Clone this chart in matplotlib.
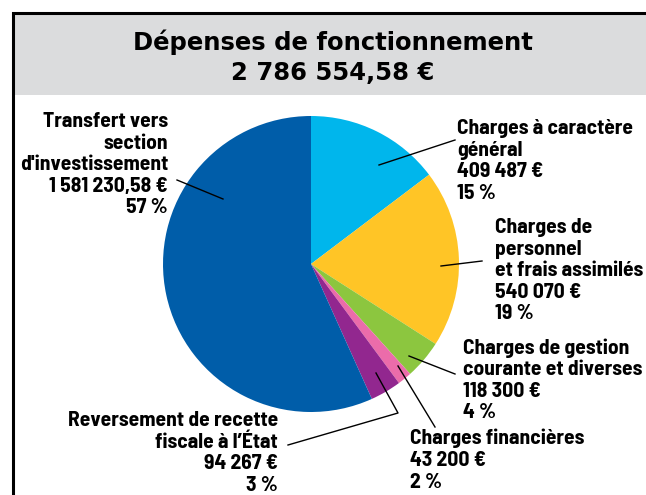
import matplotlib.pyplot as plt
from matplotlib.patches import Rectangle

# Data
categories = [
    "Charges à caractère\ngénéral",
    "Charges de\npersonnel\net frais assimilés",
    "Charges de gestion\ncourante et diverses",
    "Charges financières",
    "Reversement de recette\nfiscale à l’État",
    "Transfert vers\nsection\nd'investissement",
]
amounts = [409487, 540070, 118300, 43200, 94267, 1581230.58]
amount_labels = ["409 487 €", "540 070 €", "118 300 €", "43 200 €", "94 267 €", "1 581 230,58 €"]
pct_labels = ["15 %", "19 %", "4 %", "2 %", "3 %", "57 %"]
colors = ["#00B6EC", "#FFC526", "#8CC63F", "#EB6CAA", "#92278F", "#005DA9"]
title_lines = ["Dépenses de fonctionnement", "2 786 554,58 €"]

W, H = 646, 495
fig = plt.figure(figsize=(W / 100, H / 100), dpi=100)
ax = fig.add_axes([0, 0, 1, 1])


def P(x, y):
    # pixel coords (from top-left) -> data coords
    return (x, H - y)


# pie
ax.pie(amounts, colors=colors, startangle=90, counterclock=False,
       center=P(311, 264), radius=148, frame=True,
       wedgeprops=dict(linewidth=0))
ax.set_xlim(0, W)
ax.set_ylim(0, H)
ax.set_aspect("equal")
ax.axis("off")

# header box and frame
ax.add_patch(Rectangle(P(13, 95), W - 13, 82, facecolor="#DBDCDD", edgecolor="none", zorder=0))
ax.plot([13, 13, W], [0, H - 13, H - 13], color="black", lw=2.2, solid_joinstyle="miter", zorder=1)

tfont = dict(family="DejaVu Sans", weight="bold", fontsize=17.5, ha="center", va="center")
ax.text(*P(333, 42), title_lines[0], **tfont)
ax.text(*P(333, 73), title_lines[1], **tfont)

lfont = dict(family=["Barlow Semi Condensed", "DejaVu Sans"], weight=700,
             fontsize=15.5, linespacing=1.17)

labels = [lab + "\n" + a + "\n" + p for lab, a, p in zip(categories, amount_labels, pct_labels)]
# label anchors (x, top y, ha)
anchors = [(457, 119, "left"), (495, 218, "left"), (463, 338, "left"),
           (410, 429, "left"), (278, 411, "right"), (168, 112, "right")]
for txt, (x, y, ha) in zip(labels, anchors):
    ax.text(*P(x, y), txt, ha=ha, va="top", multialignment=ha, **lfont)

# leader lines
leaders = [
    [(379, 165), (455, 140)],
    [(441, 266), (482, 261)],
    [(409, 356), (455, 374)],
    [(398, 366), (435, 427)],
    [(376, 373), (398, 413), (288, 445)],
    [(223, 199), (177, 180)],
]
for pts in leaders:
    xs = [p[0] for p in pts]
    ys = [H - p[1] for p in pts]
    ax.plot(xs, ys, color="black", lw=1.0, zorder=5)

fig.savefig("out.png", dpi=100)
